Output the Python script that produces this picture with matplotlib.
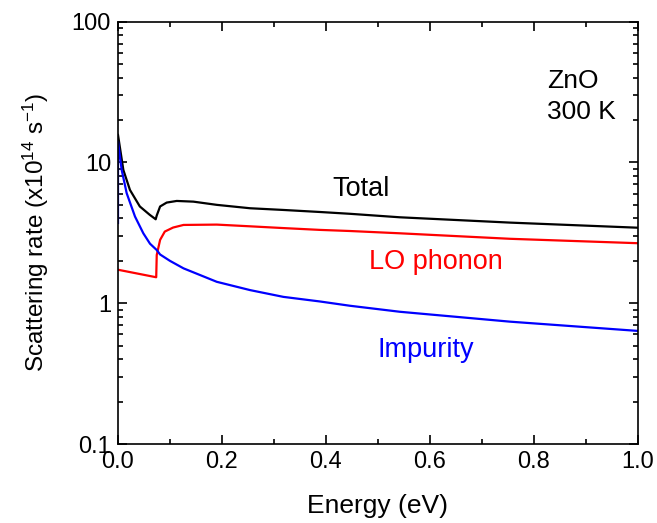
import matplotlib
matplotlib.use("Agg")
import matplotlib.pyplot as plt
from matplotlib.ticker import LogLocator, MultipleLocator, FixedFormatter, FixedLocator

plt.rcParams['font.family'] = ['Liberation Sans', 'DejaVu Sans']
plt.rcParams['mathtext.default'] = 'regular'

# values (energy in eV, rate in 1e14 s^-1)
e_total = [0.0, 0.0103, 0.023, 0.042, 0.061, 0.0725, 0.0745, 0.081, 0.0936, 0.113,
           0.145, 0.19, 0.254, 0.318, 0.388, 0.446, 0.542, 0.754, 1.0]
r_total = [15.7, 8.85, 6.38, 4.87, 4.25, 3.95, 4.2, 4.87, 5.19, 5.33,
           5.27, 5.0, 4.73, 4.6, 4.45, 4.32, 4.08, 3.74, 3.44]

e_lo = [0.0, 0.0735, 0.0745, 0.081, 0.090, 0.106, 0.126, 0.19, 0.254, 0.318,
        0.388, 0.446, 0.542, 0.754, 1.0]
r_lo = [1.73, 1.53, 2.2, 2.82, 3.23, 3.45, 3.6, 3.62, 3.52, 3.42,
        3.32, 3.26, 3.14, 2.87, 2.67]

e_imp = [0.0, 0.0, 0.0071, 0.0167, 0.0327, 0.0487, 0.0615, 0.0744, 0.081, 0.1,
         0.126, 0.19, 0.254, 0.318, 0.388, 0.446, 0.542, 0.754, 1.0]
r_imp = [3.72, 14.1, 8.85, 6.05, 4.13, 3.14, 2.65, 2.39, 2.22, 2.0,
         1.77, 1.42, 1.24, 1.11, 1.03, 0.96, 0.87, 0.74, 0.636]

x_ticks = [0.0, 0.2, 0.4, 0.6, 0.8, 1.0]
x_ticklabels = ['0.0', '0.2', '0.4', '0.6', '0.8', '1.0']
y_ticks = [0.1, 1, 10, 100]
y_ticklabels = ['0.1', '1', '10', '100']

fig = plt.figure(figsize=(6.57, 5.23), dpi=100)
ax = fig.add_axes([0.1796, 0.151, 0.7914, 0.8075])

ax.plot(e_total, r_total, color='black', lw=1.6)
ax.plot(e_lo, r_lo, color='red', lw=1.6)
ax.plot(e_imp, r_imp, color='blue', lw=1.6)

ax.set_yscale('log')
ax.set_xlim(0, 1.0)
ax.set_ylim(0.1, 100)

ax.xaxis.set_major_locator(FixedLocator(x_ticks))
ax.xaxis.set_major_formatter(FixedFormatter(x_ticklabels))
ax.xaxis.set_minor_locator(MultipleLocator(0.1))
ax.yaxis.set_major_locator(FixedLocator(y_ticks))
ax.yaxis.set_major_formatter(FixedFormatter(y_ticklabels))
ax.yaxis.set_minor_locator(LogLocator(base=10, subs=range(2, 10)))
ax.yaxis.set_minor_formatter(FixedFormatter([]))

ax.tick_params(which='both', direction='in', top=True, right=True, width=1.2,
               labelsize=17, pad=5)
ax.tick_params(which='major', length=6.5)
ax.tick_params(which='minor', length=3.5)
for sp in ax.spines.values():
    sp.set_linewidth(1.2)

ax.set_xlabel('Energy (eV)', fontsize=19, labelpad=15)
ax.set_ylabel('Scattering rate (x10$^{14}$ s$^{-1}$)', fontsize=17.5, labelpad=15)

ax.text(0.468, 5.79, 'Total', color='black', fontsize=19.5, ha='center', va='baseline')
ax.text(0.6115, 1.745, 'LO phonon', color='red', fontsize=19.5, ha='center', va='baseline')
ax.text(0.592, 0.415, 'Impurity', color='blue', fontsize=19.5, ha='center', va='baseline')
ax.text(0.825, 33.7, 'ZnO', color='black', fontsize=19, ha='left', va='baseline')
ax.text(0.825, 20.2, '300 K', color='black', fontsize=19, ha='left', va='baseline')

fig.savefig('out.png', dpi=100)
